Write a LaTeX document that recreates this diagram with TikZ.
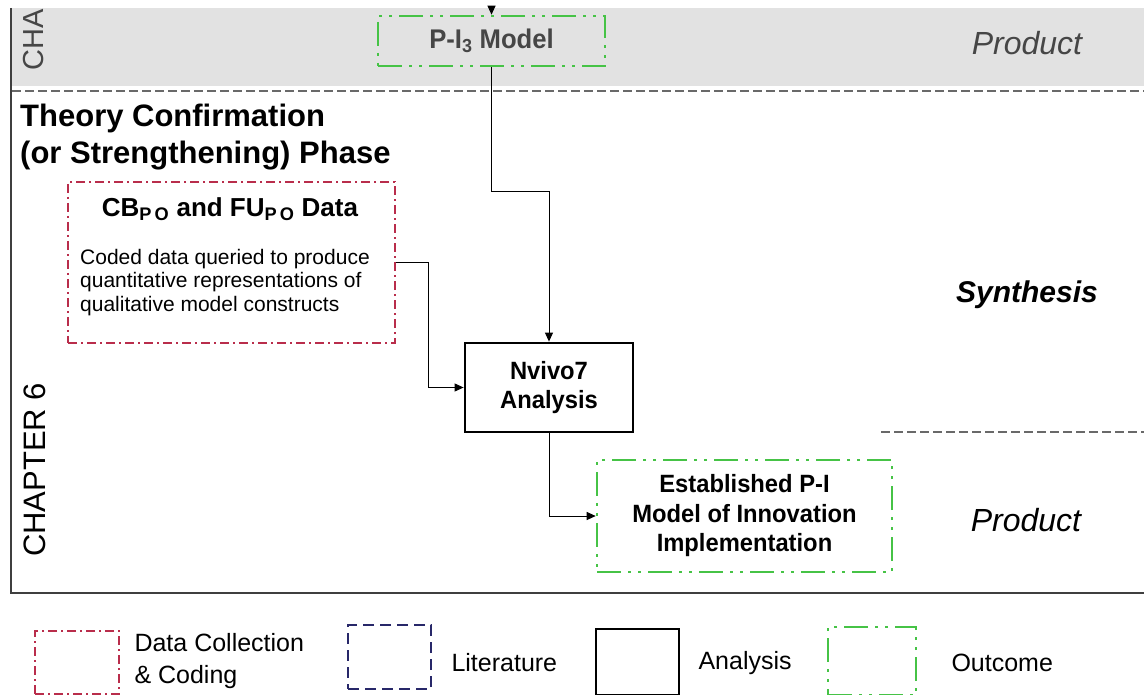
\documentclass[tikz,border=0pt]{standalone}
\usepackage{fontspec}
\setmainfont{Liberation Sans}
\newfontfamily\narrowfont[FakeStretch=0.95]{Liberation Sans}
\usetikzlibrary{arrows.meta}

\definecolor{bandgray}{RGB}{226,226,226}
\definecolor{rulegray}{RGB}{105,105,105}
\definecolor{datared}{RGB}{185,45,75}
\definecolor{litblue}{RGB}{40,40,105}
\definecolor{outgreen}{RGB}{70,195,70}
\definecolor{textgray}{RGB}{70,70,70}

\begin{document}
\begin{tikzpicture}
		[x=1pt,y=-1pt,
		datastyle/.style={draw=datared, line width=1.2pt,
			dash pattern=on 9pt off 4pt on 2pt off 4pt},
		litstyle/.style={draw=litblue, line width=1.6pt,
			dash pattern=on 11pt off 6pt},
		analysisstyle/.style={draw=black, line width=2.8pt},
		outcomestyle/.style={draw=outgreen, line width=2.6pt,
			dash pattern=on 24pt off 7pt on 3pt off 7pt on 3pt off 7pt},
		boxtitle/.style={font=\narrowfont\bfseries\fontsize{25}{29.5}\selectfont, align=center},
		phase/.style={font=\itshape\fontsize{32}{36}\selectfont},
		legendtext/.style={anchor=west, align=left, font=\fontsize{25}{32}\selectfont},
		link/.style={-{Triangle[length=9pt,width=8pt]}, line width=1pt},
		]
		\useasboundingbox (0,0) rectangle (1144,695);
		
		% chapter frame
		\fill[bandgray] (11,8) rectangle (1144,86);
		\draw[line width=1.5pt, rulegray!60!black] (11,8) -- (11,593) -- (1144,593);
		\draw[rulegray, line width=2pt, dash pattern=on 9pt off 4pt] (12,91) -- (1144,91);
		\draw[rulegray, line width=2pt, dash pattern=on 9pt off 4pt] (881,432) -- (1144,432);
		\node[rotate=90, anchor=south, font=\fontsize{29}{30}\selectfont, text=textgray] (chfive) at (47,40) {CHA};
		\node[rotate=90, font=\fontsize{31}{34}\selectfont] (chsix) at (35,470) {CHAPTER 6};
		
		% right hand labels
		\node[phase, text=textgray] (prodtop) at (1027,43) {Product};
		\node[phase, font=\bfseries\itshape\fontsize{30}{34}\selectfont] (synth) at (1027,295) {Synthesis};
		\node[phase] (prodlow) at (1026,520) {Product};
		
		% phase title
		\node[anchor=north west, align=left, inner sep=0pt,
			font=\bfseries\fontsize{31}{37}\selectfont] (title) at (20,104)
			{Theory Confirmation\\(or Strengthening) Phase};
		
		% boxes
		\node[outcomestyle, minimum width=227pt, minimum height=50pt,
			boxtitle, font=\narrowfont\bfseries\fontsize{27}{30}\selectfont,
			text=textgray] (pimodel) at (491.5,41) {P-I\textsubscript{3} Model};
		\node[datastyle, minimum width=327pt, minimum height=161pt] (cbdata) at (231.5,262.5) {};
		\node[font=\bfseries\fontsize{26}{28}\selectfont] (cbtitle) at (230,209)
			{CB\textsubscript{P\,O} and FU\textsubscript{P\,O} Data};
		\node[anchor=north west, align=left, inner sep=0pt,
			font=\fontsize{21}{23.5}\selectfont] (cbtext) at (80,249)
			{Coded data queried to produce\\quantitative representations of\\qualitative model constructs};
		\node[analysisstyle, minimum width=168pt, minimum height=89pt,
			boxtitle] (nvivo) at (549,387.5) {Nvivo7\\Analysis};
		\node[outcomestyle, minimum width=295pt, minimum height=112pt,
			boxtitle] (established) at (744.5,516) {Established P-I\\Model of Innovation\\Implementation};
		
		% connectors
		\coordinate (fromabove) at (pimodel.north |- 0,6);
		\draw[link] (fromabove) -- (pimodel.north);
		\draw[link] (pimodel.south) -- ++(0,124) -| (nvivo.north);
		\draw[link] (cbdata.east) -- ++(33,0) |- (nvivo.west);
		\draw[link] (nvivo.south) |- (established.west);
		
		% legend
		\node[datastyle, minimum width=84pt, minimum height=63pt] (keydata) at (77,662.5) {};
		\node[legendtext] (keydatatext) at (131,661) {Data Collection\\\& Coding};
		\node[litstyle, minimum width=83pt, minimum height=64pt] (keylit) at (389.5,657) {};
		\node[legendtext] (keylittext) at (448,663) {Literature};
		\node[analysisstyle, minimum width=83pt, minimum height=66pt] (keyana) at (637.5,662) {};
		\node[legendtext] (keyanatext) at (695,663) {Analysis};
		\node[outcomestyle, minimum width=88pt, minimum height=68pt] (keyout) at (872,661) {};
		\node[legendtext] (keyouttext) at (948,663) {Outcome};
	\end{tikzpicture}
\end{document}
